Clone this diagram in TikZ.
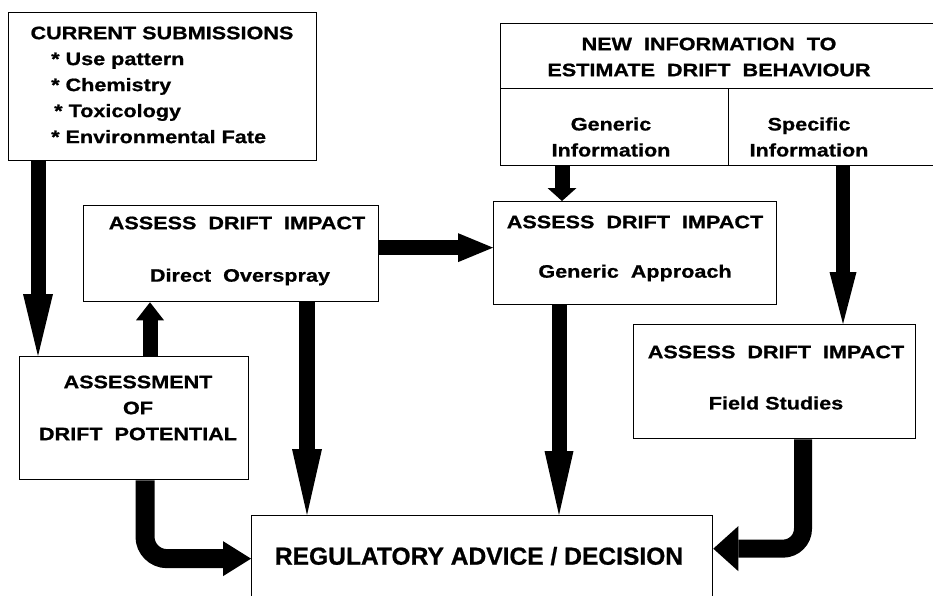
\documentclass[tikz,border=0pt]{standalone}
\usepackage{fontspec}
\setmainfont[FakeBold=0.8]{Liberation Sans}
\newfontfamily\wf[FakeStretch=1.2,FakeBold=0.8]{Liberation Sans}
\usetikzlibrary{arrows.meta}
\begin{document}
\begin{tikzpicture}[x=1pt,y=-1pt,
  box/.style={draw,line width=1.3pt,inner sep=0pt,anchor=north west},
  lbl/.style={inner sep=0pt,align=center,font=\wf\bfseries\fontsize{18}{26}\selectfont}]
\useasboundingbox (0,0) rectangle (933,596);
\clip (0,0) rectangle (933,596);
% boxes
\node[box,minimum width=308pt,minimum height=148pt] (cs) at (8,12) {};
\node[box,minimum width=435pt,minimum height=65pt] (ni) at (500,23) {};
\node[box,minimum width=228pt,minimum height=77pt] (gi) at (500,88) {};
\node[box,minimum width=207pt,minimum height=77pt] (si) at (728,88) {};
\node[box,minimum width=295pt,minimum height=96pt] (do) at (83,205) {};
\node[box,minimum width=283pt,minimum height=103pt] (ga) at (493,201) {};
\node[box,minimum width=282pt,minimum height=114pt] (fs) at (633,324) {};
\node[box,minimum width=229pt,minimum height=123pt] (dp) at (19,356) {};
\node[box,minimum width=461pt,minimum height=86pt] (reg) at (251,515) {};
% texts
\node[lbl] (cst) at (162,33) {CURRENT SUBMISSIONS};
\node[lbl,align=left,anchor=west] (csi) at (51,98) {* Use pattern\\* Chemistry\\\hspace{3pt}* Toxicology\\* Environmental Fate};
\node[lbl] (nit) at (709,57) {NEW\ \ INFORMATION\ \ TO\\ESTIMATE\ \ DRIFT\ \ BEHAVIOUR};
\node[lbl] (git) at (611,137) {Generic\\Information};
\node[lbl] (sit) at (809,137) {Specific\\Information};
\node[lbl] (do1) at (237,223) {ASSESS\ \ DRIFT\ \ IMPACT};
\node[lbl] (do2) at (240,277) {Direct\ \ Overspray};
\node[lbl] (ga1) at (635,222) {ASSESS\ \ DRIFT\ \ IMPACT};
\node[lbl] (ga2) at (635,273) {Generic\ \ Approach};
\node[lbl] (fs1) at (776,352) {ASSESS\ \ DRIFT\ \ IMPACT};
\node[lbl] (fs2) at (776,403) {Field Studies};
\node[lbl] (dpt) at (138,408) {ASSESSMENT\\OF\\DRIFT\ \ POTENTIAL};
\node[inner sep=0pt,font=\bfseries\fontsize{24.6}{28}\selectfont] (regt) at (479,556) {REGULATORY ADVICE / DECISION};
% arrows
\draw[line width=15pt,-{Triangle[length=62pt,width=30pt,line width=0pt]}] ([xshift=30pt]cs.south west) -- ([xshift=19pt]dp.north west);
\draw[line width=15pt,-{Triangle[length=18pt,width=28pt,line width=0pt]}] ([xshift=131pt]dp.north west) -- ([xshift=131pt]dp.north west |- do.south);
\draw[line width=15pt,-{Triangle[length=35pt,width=29pt,line width=0pt]}] ([yshift=6pt]do.east) -- ([yshift=6pt]do.east -| ga.west);
\draw[line width=15pt,-{Triangle[length=13pt,width=29pt,line width=0pt]}] ([xshift=62pt]gi.south west) -- ([xshift=62pt]gi.south west |- ga.north);
\draw[line width=14pt,-{Triangle[length=52pt,width=27pt,line width=0pt]}] ([xshift=115pt]si.south west) -- ([xshift=115pt]si.south west |- fs.north);
\draw[line width=16pt,-{Triangle[length=66pt,width=30pt,line width=0pt]}] ([xshift=224pt]do.south west) -- ([xshift=224pt]do.south west |- reg.north);
\draw[line width=15pt,-{Triangle[length=64pt,width=29pt,line width=0pt]}] ([xshift=66pt]ga.south west) -- ([xshift=66pt]ga.south west |- reg.north);
\draw[line width=19pt,rounded corners=22pt,-{Triangle[length=28pt,width=35pt,line width=0pt]}] ([xshift=126pt]dp.south west) |- (reg.west);
\draw[line width=18pt,rounded corners=20pt,-{Triangle[length=25pt,width=45pt,line width=0pt]}] ([xshift=170pt]fs.south west) |- ([yshift=10pt]reg.east);
\end{tikzpicture}
\end{document}
